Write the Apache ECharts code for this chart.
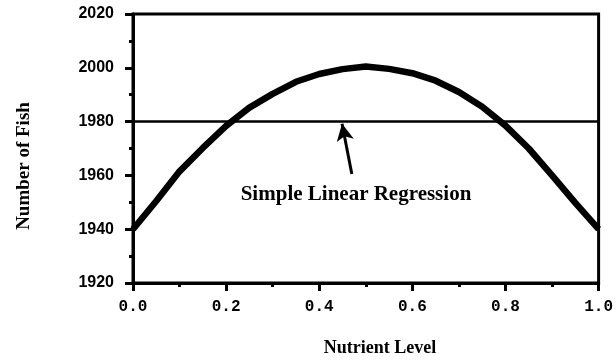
<!DOCTYPE html>
<html>
<head>
<meta charset="utf-8">
<script src="https://cdn.jsdelivr.net/npm/echarts@6/dist/echarts.min.js"></script>
<style>
  html, body { margin: 0; padding: 0; background: #fff; }
  #chart { width: 616px; height: 361px; }
</style>
</head>
<body>
<div id="chart"></div>
<script>
// nutrient level (x) and number of fish (y)
var nutrient = [0, 0.05, 0.1, 0.15, 0.2, 0.25, 0.3, 0.35, 0.4, 0.45, 0.5,
                0.55, 0.6, 0.65, 0.7, 0.75, 0.8, 0.85, 0.9, 0.95, 1.0];
var fish = [1940, 1950.5, 1961.5, 1970.2, 1978.4, 1985.2, 1990.3, 1994.8, 1997.7, 1999.5, 2000.5,
            1999.6, 1998.0, 1995.2, 1991.0, 1985.5, 1978.5, 1970.0, 1960.0, 1949.8, 1940];
var regressionX = [0, 1];
var regressionY = [1980, 1980];
var yTicks = [1920, 1940, 1960, 1980, 2000, 2020];
var xTicks = [0, 0.2, 0.4, 0.6, 0.8, 1.0];

var chart = echarts.init(document.getElementById('chart'));

var curveData = nutrient.map(function (x, i) { return [x, fish[i]]; });
var regData = regressionX.map(function (x, i) { return [x, regressionY[i]]; });

var option = {
    backgroundColor: '#fff',
    animation: false,
    grid: {
        left: 133, right: 15, top: 14, bottom: 78,
        show: true, borderColor: '#000', borderWidth: 3
    },
    xAxis: {
        type: 'value',
        min: xTicks[0], max: xTicks[xTicks.length - 1], interval: 0.2,
        axisLine: { lineStyle: { color: '#000', width: 3 } },
        axisTick: { length: 8, lineStyle: { color: '#000', width: 3 } },
        minorTick: { show: true, splitNumber: 2, length: 4, lineStyle: { color: '#000', width: 3 } },
        splitLine: { show: false },
        axisLabel: {
            margin: 16, color: '#000',
            fontFamily: 'Liberation Mono', fontWeight: 'bold', fontSize: 16,
            formatter: function (v) { return v.toFixed(1); }
        }
    },
    yAxis: {
        type: 'value',
        min: yTicks[0], max: yTicks[yTicks.length - 1], interval: 20,
        axisLine: { show: true, lineStyle: { color: '#000', width: 3 } },
        axisTick: { show: true, length: 8, lineStyle: { color: '#000', width: 3 } },
        minorTick: { show: true, splitNumber: 2, length: 4, lineStyle: { color: '#000', width: 3 } },
        splitLine: { show: false },
        axisLabel: {
            margin: 19, color: '#000',
            fontFamily: 'Liberation Sans', fontWeight: 'bold', fontSize: 16,
            formatter: function (v) { return String(v); }
        }
    },
    series: [
        {
            name: 'fish',
            type: 'line',
            data: curveData,
            symbol: 'none',
            lineStyle: { color: '#000', width: 6.5 },
            z: 3
        },
        {
            name: 'regression',
            type: 'line',
            data: regData,
            symbol: 'none',
            lineStyle: { color: '#000', width: 2.5 },
            z: 2,
            markLine: {
                silent: true,
                symbol: ['none', 'arrow'],
                symbolSize: [13, 17],
                lineStyle: { color: '#000', width: 3, type: 'solid' },
                label: { show: false },
                data: [[{ coord: [0.47, 1960.5] }, { coord: [0.449, 1979.2] }]]
            }
        }
    ],
    graphic: [
        {
            type: 'text', x: 356, y: 195,
            style: {
                text: 'Simple Linear Regression', fill: '#000',
                font: 'bold 21px "Liberation Serif"',
                textAlign: 'center', textVerticalAlign: 'middle'
            }
        },
        {
            type: 'text', x: 380, y: 348,
            style: {
                text: 'Nutrient Level', fill: '#000',
                font: 'bold 18px "Liberation Serif"',
                textAlign: 'center', textVerticalAlign: 'middle'
            }
        },
        {
            type: 'text', x: 24, y: 166, rotation: Math.PI / 2,
            style: {
                text: 'Number of Fish', fill: '#000',
                font: 'bold 19px "Liberation Serif"',
                textAlign: 'center', textVerticalAlign: 'middle'
            }
        }
    ]
};
chart.setOption(option);
</script>
</body>
</html>
